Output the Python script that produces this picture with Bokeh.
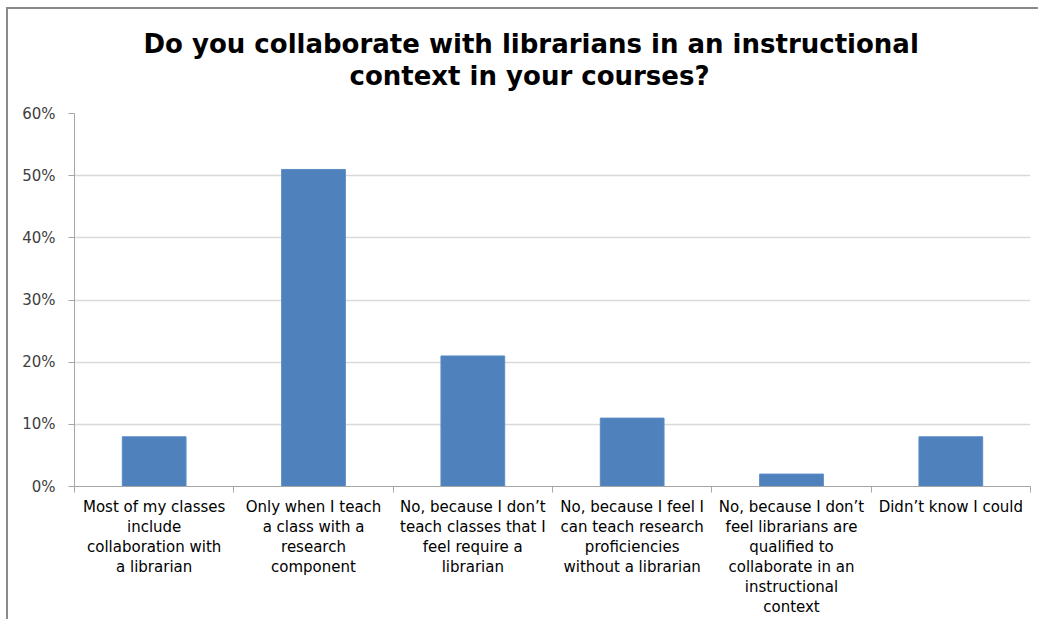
from bokeh.plotting import figure
from bokeh.models import Range1d, FixedTicker, NumeralTickFormatter, Title
from bokeh.embed import file_html
from bokeh.resources import INLINE

title_lines = ["Do you collaborate with librarians in an instructional",
               "context in your courses?"]
categories = [
    "Most of my classes\ninclude\ncollaboration with\na librarian",
    "Only when I teach\na class with a\nresearch\ncomponent",
    "No, because I don\u2019t\nteach classes that I\nfeel require a\nlibrarian",
    "No, because I feel I\ncan teach research\nproficiencies\nwithout a librarian",
    "No, because I don\u2019t\nfeel librarians are\nqualified to\ncollaborate in an\ninstructional\ncontext",
    "Didn\u2019t know I could",
]
values = [0.08, 0.51, 0.21, 0.11, 0.02, 0.08]
y_ticks = [0, 0.1, 0.2, 0.3, 0.4, 0.5, 0.6]

FONT = "DejaVu Sans"
positions = list(range(1, len(categories) + 1))

p = figure(width=1032, height=612, output_backend="svg", toolbar_location=None,
           x_range=Range1d(0.5, len(categories) + 0.5), y_range=Range1d(0, 0.6),
           min_border_left=66, min_border_right=10, min_border_top=104,
           min_border_bottom=135)
p.styles = {"border-left": "2px solid #8a8a8a", "border-top": "2px solid #8a8a8a",
            "margin-left": "6px", "margin-top": "7px"}
p.outline_line_color = None
p.background_fill_color = "white"
p.border_fill_color = "white"

p.vbar(x=positions, top=values, width=0.4, fill_color="#4F81BD",
       line_color="#5b8cc6", line_width=1)

# y axis
p.yaxis.ticker = FixedTicker(ticks=y_ticks, minor_ticks=[])
p.yaxis.formatter = NumeralTickFormatter(format="0%")
p.yaxis.axis_line_color = "#a6a6a6"
p.yaxis.major_tick_line_color = "#a6a6a6"
p.yaxis.major_tick_out = 6
p.yaxis.major_tick_in = 0
p.yaxis.minor_tick_line_color = None
p.yaxis.major_label_standoff = 13
p.yaxis.major_label_text_font = FONT
p.yaxis.major_label_text_font_size = "15px"
p.yaxis.major_label_text_color = "#404040"

# x axis
boundaries = [x - 0.5 for x in positions] + [positions[-1] + 0.5]
p.xaxis.ticker = FixedTicker(ticks=positions, minor_ticks=boundaries)
p.xaxis.major_label_overrides = {pos: lab for pos, lab in zip(positions, categories)}
p.xaxis.axis_line_color = "#a6a6a6"
p.xaxis.major_tick_line_color = None
p.xaxis.major_tick_out = 0
p.xaxis.major_tick_in = 0
p.xaxis.minor_tick_line_color = "#a6a6a6"
p.xaxis.minor_tick_out = 6
p.xaxis.minor_tick_in = 0
p.xaxis.major_label_standoff = 5
p.xaxis.major_label_text_font = FONT
p.xaxis.major_label_text_font_size = "15px"
p.xaxis.major_label_text_color = "#000000"
p.xaxis.major_label_text_line_height = 1.12

p.xgrid.grid_line_color = None
p.ygrid.ticker = FixedTicker(ticks=y_ticks)
p.ygrid.grid_line_color = "#d9d9d9"
p.ygrid.grid_line_width = 1.5

offsets = [69, 275]
standoffs = [-46, 46]
for line, off, so in reversed(list(zip(title_lines, offsets, standoffs))):
    p.add_layout(Title(text=line, align="left", offset=off, standoff=so,
                       text_font=FONT, text_font_style="bold",
                       text_font_size="26px", text_color="#000000"), "above")

open("out.html", "w").write(file_html(p, INLINE))
